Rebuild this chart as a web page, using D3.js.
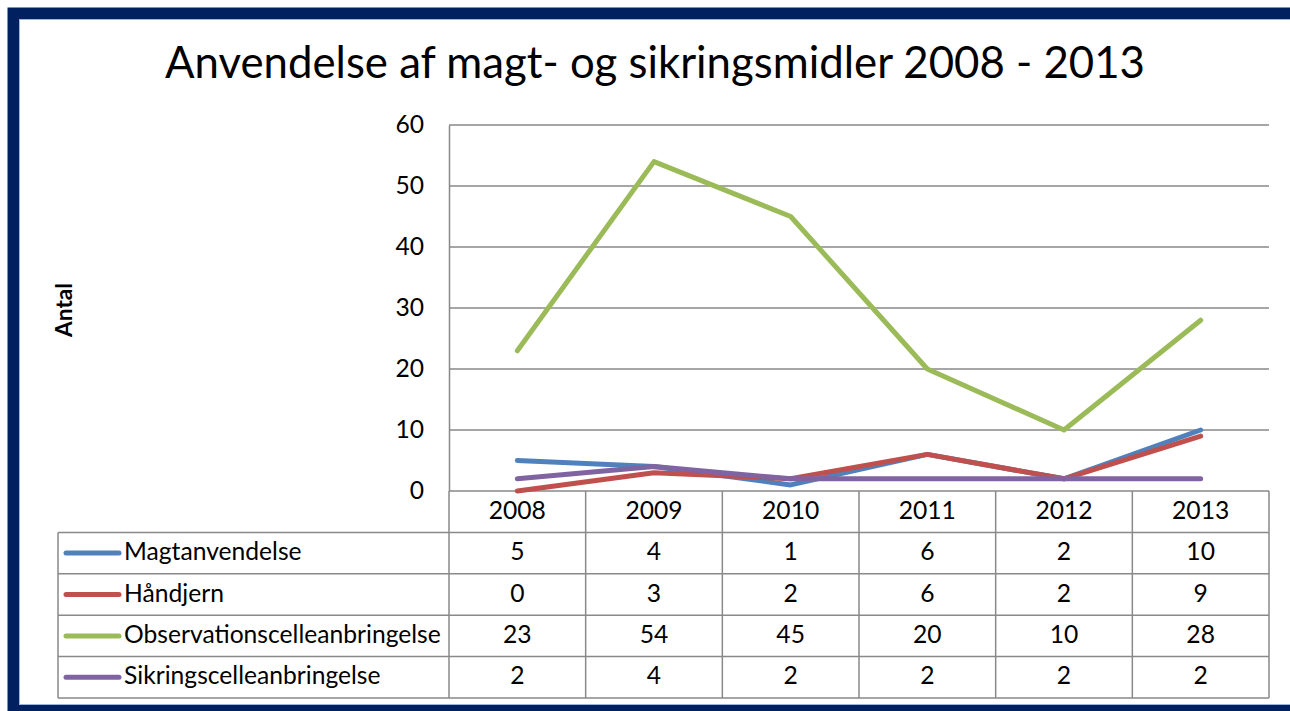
<!DOCTYPE html>
<html>
<head>
<meta charset="utf-8">
<script src="https://cdn.jsdelivr.net/npm/d3@7"></script>
<style>
  body { margin: 0; background: #fff; }
  svg text { font-family: Lato, "Open Sans", sans-serif; fill: #000; }
</style>
</head>
<body>
<div id="chart"></div>
<script>
// data
const years = ["2008", "2009", "2010", "2011", "2012", "2013"];
const seriesNames = ["Magtanvendelse", "Håndjern", "Observationscelleanbringelse", "Sikringscelleanbringelse"];
const magtanvendelse = [5, 4, 1, 6, 2, 10];
const haandjern = [0, 3, 2, 6, 2, 9];
const observation = [23, 54, 45, 20, 10, 28];
const sikring = [2, 4, 2, 2, 2, 2];
const yTicks = [0, 10, 20, 30, 40, 50, 60];
const colors = ["#4F81BD", "#C0504D", "#9BBB59", "#8064A2"];
const title = "Anvendelse af magt- og sikringsmidler 2008 - 2013";

const series = seriesNames.map((name, i) => ({
  name, color: colors[i],
  values: [magtanvendelse, haandjern, observation, sikring][i]
}));

const W = 1290, H = 711;
const plot = { left: 449, right: 1269, top: 125, bottom: 491 };
const rowH = 41.4;
const tableLeft = 58;

const svg = d3.select("#chart").append("svg")
  .attr("width", W).attr("height", H);

// frame
svg.append("rect").attr("x", 0).attr("y", 0).attr("width", W).attr("height", H).attr("fill", "#fff");
svg.append("rect").attr("x", 13.5).attr("y", 13.5).attr("width", W).attr("height", 697)
  .attr("fill", "none").attr("stroke", "#002060").attr("stroke-width", 12);
svg.append("rect").attr("x", 19.5).attr("y", 19.5).attr("width", W).attr("height", 685)
  .attr("fill", "none").attr("stroke", "#9DB5D9").attr("stroke-width", 1);

// fit text helper
function fitText(sel, width) {
  const fs = parseFloat(sel.attr("font-size"));
  const w = sel.node().getComputedTextLength();
  const nfs = fs * width / w;
  sel.attr("font-size", nfs.toFixed(2));
  return nfs;
}

// title
const t = svg.append("text").attr("x", 655).attr("y", 78)
  .attr("text-anchor", "middle").attr("font-size", 40).text(title);
fitText(t, 980);

// measure base font size from longest legend label
const probe = svg.append("text").attr("font-size", 20).text(seriesNames[2]);
const fs = fitText(probe, 317);
probe.remove();

// scales
const x = d3.scaleBand().domain(years).range([plot.left, plot.right]);
const y = d3.scaleLinear().domain([0, 60]).range([plot.bottom, plot.top]);

// gridlines
svg.append("g").selectAll("line").data(yTicks).join("line")
  .attr("x1", plot.left).attr("x2", plot.right)
  .attr("y1", d => y(d)).attr("y2", d => y(d))
  .attr("stroke", "#898989").attr("stroke-width", 1.5);

// y axis
const yAxis = svg.append("g").attr("transform", `translate(${plot.left},0)`)
  .call(d3.axisLeft(y).tickValues(yTicks).tickSize(0).tickPadding(25));
yAxis.select(".domain").attr("stroke", "#898989").attr("stroke-width", 1.5);
yAxis.selectAll("text").attr("font-size", fs).attr("font-family", "Lato, sans-serif").attr("fill", "#000");

const at = svg.append("text").attr("transform", "translate(72,310) rotate(-90)")
  .attr("text-anchor", "middle").attr("font-size", 20).attr("font-weight", "bold").text("Antal");
fitText(at, 54);

// lines
const line = d3.line()
  .x((d, i) => x(years[i]) + x.bandwidth() / 2)
  .y(d => y(d));
svg.append("g").selectAll("path").data(series).join("path")
  .attr("d", d => line(d.values))
  .attr("fill", "none").attr("stroke", d => d.color)
  .attr("stroke-width", 5).attr("stroke-linecap", "round").attr("stroke-linejoin", "round");

// data table
const tbl = svg.append("g");
const gridColor = "#898989";
const tableBottom = plot.bottom + rowH * 5;
d3.range(1, 6).forEach(r => {
  const yy = plot.bottom + rowH * r;
  tbl.append("line").attr("x1", tableLeft).attr("x2", plot.right)
    .attr("y1", yy).attr("y2", yy).attr("stroke", gridColor).attr("stroke-width", 1.5);
});
tbl.append("line").attr("x1", tableLeft).attr("x2", tableLeft)
  .attr("y1", plot.bottom + rowH).attr("y2", tableBottom).attr("stroke", gridColor).attr("stroke-width", 1.5);
const colEdges = years.map(d => x(d)).concat([plot.right]);
colEdges.forEach(cx => {
  tbl.append("line").attr("x1", cx).attr("x2", cx)
    .attr("y1", plot.bottom).attr("y2", tableBottom).attr("stroke", gridColor).attr("stroke-width", 1.5);
});

// header years
tbl.selectAll("text.year").data(years).join("text").attr("class", "year")
  .attr("x", d => x(d) + x.bandwidth() / 2).attr("y", plot.bottom + rowH / 2 + 7)
  .attr("text-anchor", "middle").attr("font-size", fs).text(d => d);

// rows
series.forEach((s, r) => {
  const cy = plot.bottom + rowH * (r + 1) + rowH / 2;
  tbl.append("line").attr("x1", 66).attr("x2", 119).attr("y1", cy).attr("y2", cy)
    .attr("stroke", s.color).attr("stroke-width", 5).attr("stroke-linecap", "round");
  tbl.append("text").attr("x", 124).attr("y", cy + 7).attr("font-size", fs).text(s.name);
  tbl.selectAll(null).data(s.values).join("text")
    .attr("x", (d, i) => x(years[i]) + x.bandwidth() / 2).attr("y", cy + 7)
    .attr("text-anchor", "middle").attr("font-size", fs).text(d => d);
});
</script>
</body>
</html>
